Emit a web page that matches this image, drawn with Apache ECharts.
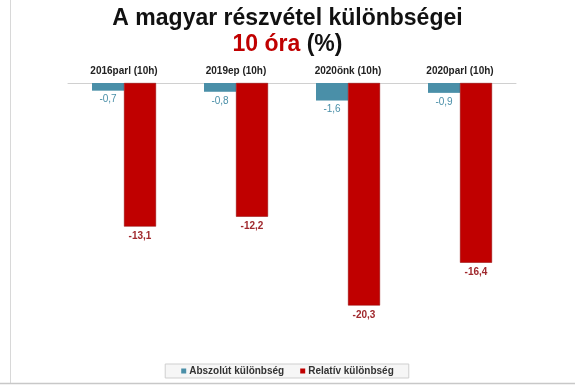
<!DOCTYPE html>
<html><head><meta charset="utf-8">
<script src="https://cdn.jsdelivr.net/npm/echarts@6/dist/echarts.min.js"></script>
<style>html,body{margin:0;padding:0;background:#fff}#c{width:575px;height:387px}</style>
</head><body><div id="c"></div>
<script>
var categories = ['2016parl (10h)', '2019ep (10h)', '2020önk (10h)', '2020parl (10h)'];
var absolute = [-0.7, -0.8, -1.6, -0.9];
var relative = [-13.1, -12.2, -20.3, -16.4];
var seriesNames = ['Abszolút különbség', 'Relatív különbség'];

var chart = echarts.init(document.getElementById('c'));
function fmt(p){ return String(p.value).replace('.', ','); }
chart.setOption({
  backgroundColor: '#fff',
  animation: false,
  title: {
    text: 'A magyar részvétel különbségei\n{r|10 óra} {k|(%)}',
    left: 'center', top: 1,
    textStyle: {
      fontFamily: 'Liberation Sans, Arial', fontWeight: 'bold', fontSize: 23, color: '#111', lineHeight: 26,
      rich: {
        r: {fontFamily: 'Liberation Sans, Arial', fontWeight: 'bold', fontSize: 23, color: '#c00000', lineHeight: 26},
        k: {fontFamily: 'Liberation Sans, Arial', fontWeight: 'bold', fontSize: 23, color: '#111', lineHeight: 26}
      }
    }
  },
  grid: {left: 68, right: 59, top: 83, height: 274},
  xAxis: {
    type: 'category', data: categories, position: 'top',
    axisLine: {lineStyle: {color: '#d0d0d0', width: 1}},
    axisTick: {show: false},
    axisLabel: {fontFamily: 'Liberation Sans, Arial', fontWeight: 'bold', fontSize: 10, color: '#222', margin: 7}
  },
  yAxis: {type: 'value', min: -25, max: 0, show: false, splitLine: {show: false}},
  legend: {
    bottom: 9, left: 'center', itemWidth: 5, itemHeight: 5, itemGap: 16,
    icon: 'rect', padding: [2, 15, 2, 16],
    borderColor: '#cfcfcf', borderWidth: 1, backgroundColor: '#f6f6f6',
    itemStyle: {borderWidth: 0},
    textStyle: {fontFamily: 'Liberation Sans, Arial', fontWeight: 'bold', fontSize: 10, color: '#333', padding: [0, 0, 0, -2]},
    data: seriesNames
  },
  series: [
    {name: seriesNames[0], type: 'bar', data: absolute, barWidth: 32, barGap: '0%',
     itemStyle: {color: '#4a8fa8'},
     label: {show: true, position: 'bottom', distance: 4, formatter: fmt,
       fontFamily: 'Liberation Sans, Arial', fontSize: 10, color: '#4a8fa8'}},
    {name: seriesNames[1], type: 'bar', data: relative, barWidth: 32,
     itemStyle: {color: '#c00000', borderColor: '#8e0000', borderWidth: 0.5},
     label: {show: true, position: 'bottom', distance: 5, formatter: fmt,
       fontFamily: 'Liberation Sans, Arial', fontWeight: 'bold', fontSize: 10, color: '#a0282d'}}
  ],
  graphic: [
    {type: 'line', shape: {x1: 10.5, y1: 0, x2: 10.5, y2: 383}, style: {stroke: '#d8d8d8', lineWidth: 1}},
    {type: 'line', shape: {x1: 0, y1: 383.5, x2: 575, y2: 383.5}, style: {stroke: '#c8c8c8', lineWidth: 1.5}}
  ]
});
</script></body></html>
